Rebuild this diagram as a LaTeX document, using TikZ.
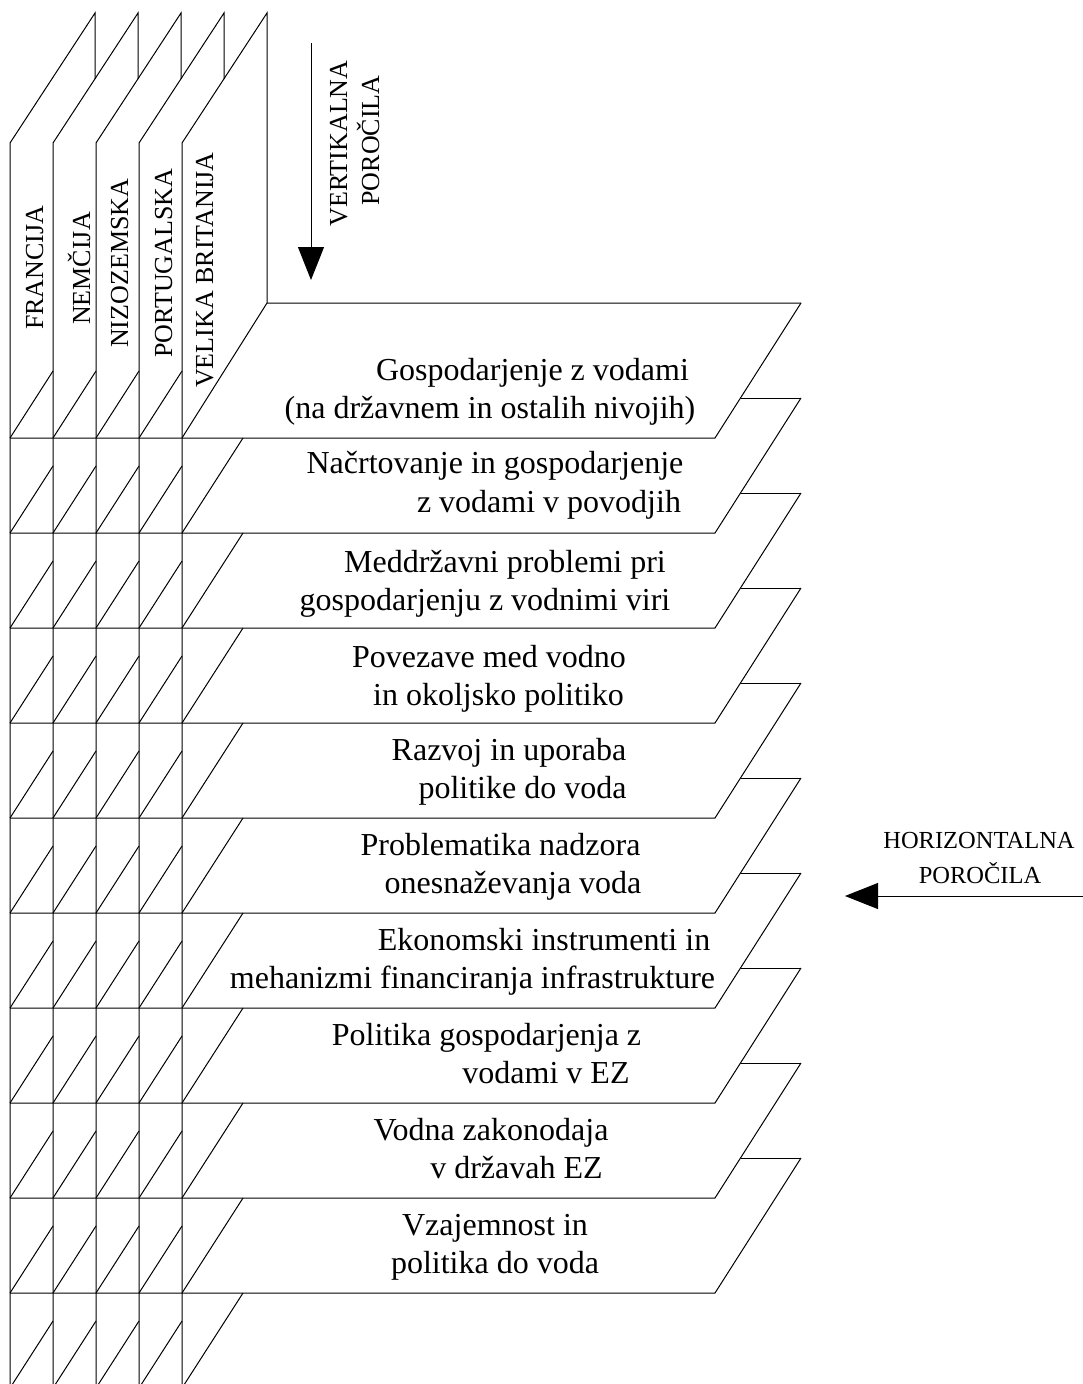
\documentclass[tikz,border=0pt]{standalone}
\usepackage{fontspec}
\setmainfont{Liberation Serif}
\usetikzlibrary{arrows.meta}
\begin{document}
\begin{tikzpicture}[x=1pt,y=-1pt,
  edge/.style={draw=black, line width=1pt},
  lbl/.style={inner sep=0pt, anchor=base, font=\fontsize{32}{37}\selectfont},
  ctry/.style={inner sep=0pt, rotate=90, anchor=base west, font=\fontsize{26}{30}\selectfont},
  capv/.style={inner sep=0pt, rotate=90, anchor=base, font=\fontsize{26}{30}\selectfont},
  caph/.style={inner sep=0pt, anchor=base, font=\fontsize{24.5}{30}\selectfont},
  arr/.style={-{Triangle[length=33pt,width=26pt]}, line width=1pt}]
\useasboundingbox (0,0) rectangle (1083,1384);
\clip (0,0) rectangle (1083,1384);
% vertical planes (countries)
\foreach \x in {10,53,96,139} {
  \draw[edge] (\x,1400) -- (\x,143) -- ({\x+85},13) -- ({\x+85},79);
}
\draw[edge] (182,1400) -- (182,143) -- (267,13) -- (267,303) -- (801,303);
\draw[edge] (182,438) -- (267,303);
% horizontal planes (topics)
\foreach \k in {0,...,9} {
  \pgfmathsetmacro\F{438+95*\k}
  \draw[edge] (10,\F) -- (715,\F) -- (801,{\F-135});
}
\foreach \k in {1,...,9} {
  \pgfmathsetmacro\F{438+95*\k}
  \draw[edge] (741,{\F-135}) -- (801,{\F-135});
}
% intersections of topic planes with country planes
\foreach \k in {0,...,10} {
  \pgfmathsetmacro\F{438+95*\k}
  \foreach \x in {10,53,96,139} {
    \draw[edge] (\x,\F) -- ({\x+43},{\F-67});
  }
}
\foreach \k in {1,...,10} {
  \pgfmathsetmacro\F{438+95*\k}
  \draw[edge] (182,\F) -- (243,{\F-95});
}
% country labels
\node[ctry] (fr) at (43,330) {FRANCIJA};
\node[ctry] (de) at (90,325) {NEMČIJA};
\node[ctry] (nl) at (128,348) {NIZOZEMSKA};
\node[ctry] (pt) at (172,358) {PORTUGALSKA};
\node[ctry] (uk) at (213,388) {VELIKA BRITANIJA};
% vertical reports
\node[capv] (vert1) at (347,143.5) {VERTIKALNA};
\node[capv] (vert2) at (379,140.5) {POROČILA};
\coordinate (vtop) at (311,43);
\coordinate (vtip) at (311,280);
\draw[arr] (vtop) -- (vtip);
% horizontal reports
\node[caph] (hor1) at (979,848) {HORIZONTALNA};
\node[caph] (hor2) at (980,883) {POROČILA};
\coordinate (hstart) at (1095,896);
\coordinate (htip) at (845,896);
\draw[arr] (hstart) -- (htip);
% topic texts
\node[lbl] (t1a) at (532.5,380) {Gospodarjenje z vodami};
\node[lbl] (t1b) at (490,418) {(na državnem in ostalih nivojih)};
\node[lbl] (t2a) at (495,473) {Načrtovanje in gospodarjenje};
\node[lbl] (t2b) at (549,512) {z vodami v povodjih};
\node[lbl] (t3a) at (505,572) {Meddržavni problemi pri};
\node[lbl] (t3b) at (485,610) {gospodarjenju z vodnimi viri};
\node[lbl] (t4a) at (489,667) {Povezave med vodno};
\node[lbl] (t4b) at (498.5,705) {in okoljsko politiko};
\node[lbl] (t5a) at (509,760) {Razvoj in uporaba};
\node[lbl] (t5b) at (522.5,798) {politike do voda};
\node[lbl] (t6a) at (500.5,855) {Problematika nadzora};
\node[lbl] (t6b) at (513,893) {onesnaževanja voda};
\node[lbl] (t7a) at (544,950) {Ekonomski instrumenti in};
\node[lbl] (t7b) at (472.5,988) {mehanizmi financiranja infrastrukture};
\node[lbl] (t8a) at (486.5,1045) {Politika gospodarjenja z};
\node[lbl] (t8b) at (546,1083) {vodami v EZ};
\node[lbl] (t9a) at (491,1140) {Vodna zakonodaja};
\node[lbl] (t9b) at (516.5,1178) {v državah EZ};
\node[lbl] (t10a) at (495,1235) {Vzajemnost in};
\node[lbl] (t10b) at (495,1273) {politika do voda};
\end{tikzpicture}
\end{document}
